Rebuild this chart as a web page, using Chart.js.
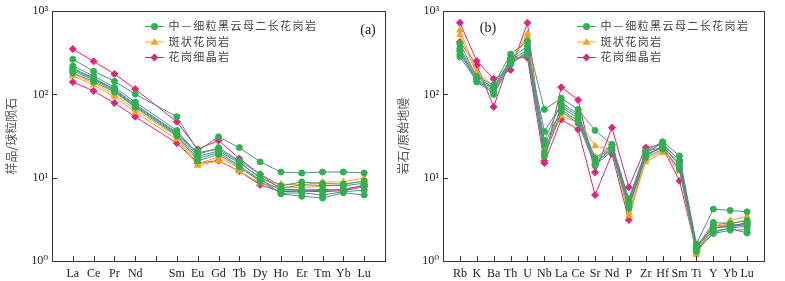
<!DOCTYPE html>
<html>
<head>
<meta charset="utf-8">
<script src="https://cdn.jsdelivr.net/npm/chart.js@4"></script>
<style>
  html, body { margin: 0; padding: 0; background: #fff; }
  #wrap { position: relative; width: 785px; height: 281px; }
  canvas { position: absolute; top: 0; }
  #left { left: 0; }
  #right { left: 392px; }
</style>
</head>
<body>
<div id="wrap">
  <canvas id="left" width="392" height="281"></canvas>
  <canvas id="right" width="393" height="281"></canvas>
</div>
<script>
// (a) REE, chondrite-normalised; '' = Pm gap
const reeLabels = ['La', 'Ce', 'Pr', 'Nd', '', 'Sm', 'Eu', 'Gd', 'Tb', 'Dy', 'Ho', 'Er', 'Tm', 'Yb', 'Lu'];
const reeGreen = [
  [265, 190, 144, 101, 54, 21, 31, 23, 15.5, 11.7, 11.4, 11.7, 11.7, 11.4],
  [220, 167, 122, 81, 37, 19, 23, 16, 11, 8.0, 8.9, 8.5, 8.4, 9.1],
  [206, 158, 116, 76, 35, 18, 21, 15, 10.2, 7.5, 8.2, 8.1, 8.0, 8.6],
  [192, 150, 110, 72, 33, 17, 20, 14, 9.4, 7.1, 7.1, 7.0, 7.3, 8.0],
  [182, 143, 107, 70, 32, 16, 19, 13.5, 9.0, 6.5, 6.6, 6.2, 6.8, 7.1],
  [200, 155, 113, 74, 34, 20, 22, 15.5, 9.8, 6.4, 6.0, 5.7, 6.6, 6.2]
];
const reeOrange = [
  [176, 138, 100, 66, 31, 14.5, 18, 13, 9.5, 8.4, 8.2, 8.9, 8.9, 9.9],
  [168, 130, 94, 61, 29, 14, 16, 12, 8.6, 7.6, 7.6, 7.9, 8.2, 9.2]
];
const reePink = [
  [351, 250, 176, 116, 47, 22, 28, 17, 11, 7.3, 7.1, 7.2, 7.1, 8.2],
  [141, 110, 79, 54, 26, 15, 16, 12, 8.2, 6.8, 6.9, 6.8, 7.0, 7.8]
];

// (b) trace elements, primitive-mantle-normalised
const traceLabels = ['Rb', 'K', 'Ba', 'Th', 'U', 'Nb', 'La', 'Ce', 'Sr', 'Nd', 'P', 'Zr', 'Hf', 'Sm', 'Ti', 'Y', 'Yb', 'Lu'];
const traceGreen = [
  [408, 164, 130, 305, 436, 66, 90, 66, 37, 25, 5.6, 21, 27, 18.3, 1.6, 4.2, 4.05, 3.9],
  [341, 150, 117, 260, 341, 36, 75, 55, 16, 24, 5.1, 19.3, 23, 15.2, 1.45, 2.9, 2.81, 3.07],
  [325, 141, 104, 230, 320, 25, 66, 48, 14.7, 22, 4.6, 17.5, 22, 13, 1.35, 2.14, 2.34, 2.38],
  [283, 145, 110, 247, 300, 20, 70, 52, 15, 23, 4.9, 18, 24, 14, 1.5, 2.3, 2.45, 2.17],
  [300, 155, 100, 235, 330, 18, 62, 45, 14, 21, 4.3, 19, 23, 12.5, 1.3, 2.2, 2.5, 2.6],
  [360, 160, 120, 270, 380, 28, 80, 58, 17, 25, 5.3, 20, 26, 16, 1.55, 2.5, 2.7, 2.8]
];
const traceOrange = [
  [590, 188, 125, 250, 537, 22, 60, 50, 24, 22, 3.5, 15.5, 20, 13, 1.18, 2.56, 3.07, 3.43],
  [522, 175, 115, 240, 500, 20, 55, 46, 18, 21, 3.8, 16.5, 21, 12, 1.25, 2.6, 2.8, 3.1]
];
const tracePink = [
  [726, 252, 154, 197, 726, 16, 122, 86, 11.6, 40, 7.7, 23, 25, 16.2, 1.4, 2.7, 2.56, 2.93],
  [427, 225, 71, 276, 276, 15, 50, 38, 6.2, 19.3, 3.1, 21, 23, 9.2, 1.3, 2.5, 2.6, 2.73]
];

const yTicks = [1, 10, 100, 1000];
const yTickText = { 1: '10\u2070', 10: '10\u00b9', 100: '10\u00b2', 1000: '10\u00b3' };
const legendNames = ['中\u2014细粒黑云母二长花岗岩', '斑状花岗岩', '花岗细晶岩'];

const GREEN = '#2db24e', TEAL = '#4e8f8c', ORANGE = '#f9a31b', PINK = '#e5237b';
const styles = [
  { line: TEAL, fill: GREEN, shape: 'circle', r: 3 },
  { line: ORANGE, fill: ORANGE, shape: 'triangle', r: 3.5 },
  { line: PINK, fill: PINK, shape: 'rectRot', r: 3.5 }
];
const serif = "'Liberation Serif', 'DejaVu Serif', serif";
const cjk = '"Noto Sans CJK SC", sans-serif';

function buildDatasets(labels, groups) {
  const xs = labels.map((l, i) => l ? i : null).filter(i => i !== null);
  const sets = [];
  groups.forEach((group, gi) => {
    const st = styles[gi];
    group.forEach(vals => {
      sets.push({
        data: vals.map((v, k) => ({ x: xs[k], y: v })),
        borderColor: st.line,
        backgroundColor: st.fill,
        borderWidth: 1,
        pointStyle: st.shape,
        pointRadius: st.r,
        pointBorderColor: st.fill,
        pointBackgroundColor: st.fill,
        pointBorderWidth: 1
      });
    });
  });
  return sets;
}

function drawMarker(ctx, st, x, y) {
  const r = st.r + 0.5;
  ctx.fillStyle = st.fill;
  ctx.beginPath();
  if (st.shape === 'circle') {
    ctx.arc(x, y, r, 0, Math.PI * 2);
  } else if (st.shape === 'triangle') {
    ctx.moveTo(x, y - r);
    ctx.lineTo(x + r, y + r * 0.7);
    ctx.lineTo(x - r, y + r * 0.7);
    ctx.closePath();
  } else {
    ctx.moveTo(x, y - r);
    ctx.lineTo(x + r, y);
    ctx.lineTo(x, y + r);
    ctx.lineTo(x - r, y);
    ctx.closePath();
  }
  ctx.fill();
}

// frame, inward ticks, legend and panel tag
function framePlugin(cfg) {
  return {
    id: 'frame',
    afterDraw(chart) {
      const { ctx, chartArea: a, scales } = chart;
      ctx.save();
      ctx.strokeStyle = '#333';
      ctx.lineWidth = 1;
      ctx.strokeRect(Math.round(a.left) + 0.5, Math.round(a.top) + 0.5,
        Math.round(a.right - a.left), Math.round(a.bottom - a.top));
      ctx.beginPath();
      scales.x.ticks.forEach(t => {
        const px = Math.round(scales.x.getPixelForValue(t.value)) + 0.5;
        ctx.moveTo(px, a.bottom);
        ctx.lineTo(px, a.bottom - 5);
      });
      scales.y.ticks.forEach(t => {
        const py = Math.round(scales.y.getPixelForValue(t.value)) + 0.5;
        ctx.moveTo(a.left, py);
        ctx.lineTo(a.left + 5, py);
      });
      ctx.stroke();

      // legend, spaced out one character at a time
      ctx.font = '11px ' + cjk;
      ctx.textBaseline = 'middle';
      ctx.textAlign = 'center';
      legendNames.forEach((name, i) => {
        const st = styles[i];
        const y = cfg.legY + i * 15.5;
        ctx.strokeStyle = i === 0 ? GREEN : st.line;
        ctx.beginPath();
        ctx.moveTo(cfg.legX, y + 0.5);
        ctx.lineTo(cfg.legX + 19, y + 0.5);
        ctx.stroke();
        drawMarker(ctx, st, cfg.legX + 9.5, y + 0.5);
        ctx.fillStyle = '#444';
        Array.from(name).forEach((ch, k) => {
          ctx.fillText(ch, cfg.legX + 29 + k * 12.4, y);
        });
      });

      ctx.font = '14px ' + serif;
      ctx.fillStyle = '#222';
      ctx.fillText(cfg.tag, cfg.tagX, cfg.tagY);
      ctx.restore();
    }
  };
}

function makeChart(id, labels, groups, cfg) {
  const n = labels.length;
  new Chart(document.getElementById(id), {
    type: 'line',
    data: { datasets: buildDatasets(labels, groups) },
    options: {
      responsive: false,
      animation: false,
      layout: { padding: { top: cfg.top, right: cfg.right, left: 0, bottom: 0 } },
      plugins: { legend: { display: false }, tooltip: { enabled: false } },
      scales: {
        x: {
          type: 'linear',
          min: -1,
          max: n,
          afterBuildTicks: s => { s.ticks = labels.map((l, i) => ({ value: i })); },
          afterFit: s => { s.height = 20; },
          grid: { display: false, drawTicks: false },
          border: { display: false },
          ticks: {
            autoSkip: false,
            maxRotation: 0,
            padding: 6,
            color: '#222',
            font: { family: serif, size: 12 },
            callback: v => labels[v] || ''
          }
        },
        y: {
          type: 'logarithmic',
          min: 1,
          max: 1000,
          afterBuildTicks: s => { s.ticks = yTicks.map(v => ({ value: v })); },
          afterFit: s => { s.width = cfg.yWidth; },
          grid: { display: false, drawTicks: false },
          border: { display: false },
          title: {
            display: true,
            text: cfg.yTitle,
            color: '#555',
            font: { family: cjk, size: 12 },
            padding: { top: 4, bottom: 0 }
          },
          ticks: {
            padding: 4,
            color: '#222',
            font: { family: serif, size: 12 },
            callback: v => yTickText[v] || ''
          }
        }
      }
    },
    plugins: [framePlugin(cfg)]
  });
}

makeChart('left', reeLabels, [reeGreen, reeOrange, reePink], {
  top: 11, right: 7, yWidth: 52, yTitle: '样品/球粒陨石',
  legX: 145, legY: 26, tag: '(a)', tagX: 368, tagY: 30
});
makeChart('right', traceLabels, [traceGreen, traceOrange, tracePink], {
  top: 8, right: 21, yWidth: 51, yTitle: '岩石/原始地幔',
  legX: 185, legY: 26, tag: '(b)', tagX: 96, tagY: 28
});
</script>
</body>
</html>
